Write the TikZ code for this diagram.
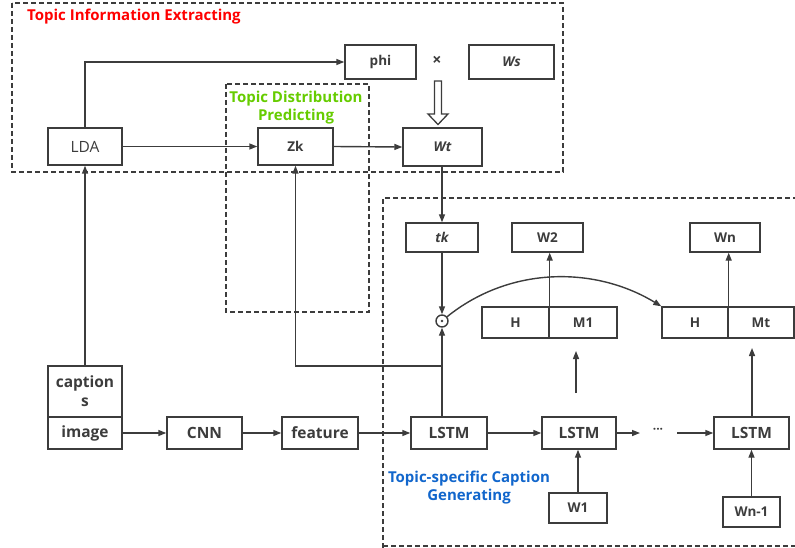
\documentclass[tikz,border=0pt]{standalone}
\usepackage{fontspec}
\setmainfont{Open Sans}
\usetikzlibrary{arrows.meta,calc}
\definecolor{ln}{HTML}{3C3C3C}
\definecolor{tred}{HTML}{FF0000}
\definecolor{tgreen}{HTML}{66CC00}
\definecolor{tblue}{HTML}{1166CC}
\begin{document}
\begin{tikzpicture}[x=1pt,y=-1pt,
  box/.style={draw=ln, line width=1.4pt, rectangle, inner sep=0pt, text=ln},
  big/.style={box, font=\fontsize{15.5}{17}\selectfont\bfseries},
  small/.style={box, font=\fontsize{13.5}{15}\selectfont\bfseries},
  smallit/.style={box, font=\fontsize{13.5}{15}\selectfont\bfseries\itshape},
  grp/.style={draw=ln, line width=1.3pt, dash pattern=on 5pt off 3pt},
  arr/.style={-{Triangle[length=8pt,width=6pt]}, draw=ln, line width=1.4pt},
  ttl/.style={font=\fontsize{15}{18}\selectfont\bfseries, align=center, inner sep=0pt}
]
\useasboundingbox (0,0) rectangle (795,548);

% group boxes
\draw[grp] (12,3) rectangle (563,172);
\draw[grp] (226,84) rectangle (369,312);
\draw[grp] (383,548) -- (383,198) -- (800,198);
\draw[grp] (383,546) -- (800,546);
\node[ttl, text=tred, anchor=west] (t1) at (27,17) {Topic Information Extracting};
\node[ttl, text=tgreen] (t2) at (296,107.5) {Topic Distribution\\Predicting};
\node[ttl, text=tblue] (t3) at (469,488) {Topic-specific Caption\\Generating};

% top section
\node[box, minimum width=74pt, minimum height=37pt, font=\fontsize{15.5}{17}\selectfont] (lda) at (85,146.5) {LDA};
\node[small, minimum width=71pt, minimum height=34pt] (phi) at (380.5,62) {phi};
\node[text=ln, font=\fontsize{16}{18}\selectfont\bfseries, inner sep=0pt] (times) at (437,61) {×};
\node[smallit, minimum width=85pt, minimum height=34pt] (ws) at (511.5,62) {Ws};
\node[smallit, minimum width=79pt, minimum height=38pt] (wt) at (442.5,147) {Wt};
\node[small, minimum width=75pt, minimum height=37pt] (zk) at (295.5,146.5) {Zk};

\draw[arr] (lda.north) |- (phi.west);
\draw[arr] (lda.east) -- (zk.west);
\draw[arr] (zk.east) -- (wt.west);
% hollow arrow
\draw[draw=ln, line width=1.3pt, fill=white] (434.5,81) -- (441.5,81) -- (441.5,114) -- (448,114) -- (438,124.5) -- (428,114) -- (434.5,114) -- cycle;

% caption generating section
\node[smallit, minimum width=72pt, minimum height=29pt] (tk) at (442,237.5) {tk};
\node[small, minimum width=71pt, minimum height=29pt] (w2) at (547.5,237.5) {W2};
\node[small, minimum width=70pt, minimum height=29pt] (wn) at (725,237.5) {Wn};
\node[small, minimum width=67pt, minimum height=31pt] (h1) at (515.5,322.5) {H};
\node[small, minimum width=68pt, minimum height=31pt] (m1) at (583,322.5) {M1};
\node[small, minimum width=66pt, minimum height=31pt] (h2) at (695,322.5) {H};
\node[small, minimum width=66pt, minimum height=31pt] (mt) at (761,322.5) {Mt};
\node[draw=ln, line width=1.4pt, circle, minimum size=12pt, inner sep=0pt] (od) at (442,321) {};
\fill[ln] (od.center) circle (1.3pt);

\draw[arr] (wt.south -| tk.north) -- (tk.north);
\draw[arr] (tk.south) -- (od.north);
\draw[arr] (h1.north east) -- (w2.south -| h1.north east);
\draw[arr] (h2.north east) -- (wn.south -| h2.north east);
\draw[arr] (od.40) .. controls (510,266) and (595,266) .. (h2.north west);

% bottom row
\node[big, minimum width=74pt, minimum height=51pt, align=center, font=\fontsize{15.5}{19}\selectfont\bfseries] (cap) at (85,391.5) {caption\\s};
\node[big, minimum width=74pt, minimum height=32pt] (img) at (85,433) {image};
\node[big, minimum width=75pt, minimum height=32pt] (cnn) at (204.5,433) {CNN};
\node[big, minimum width=76pt, minimum height=32pt] (feat) at (320,433) {feature};
\node[big, minimum width=76pt, minimum height=32pt] (l1) at (449,433) {LSTM};
\node[big, minimum width=74pt, minimum height=32pt] (l2) at (579,433) {LSTM};
\node[big, minimum width=75pt, minimum height=32pt] (l3) at (751.5,433) {LSTM};
\node[text=ln, font=\fontsize{12}{14}\selectfont\bfseries, inner sep=0pt] (dots) at (658,431) {···};
\node[small, minimum width=58pt, minimum height=30pt] (w1) at (578,508) {W1};
\node[small, minimum width=57pt, minimum height=30pt] (wn1) at (751.5,512) {Wn-1};

\draw[arr] (cap.north) -- (lda.south);
\draw[arr] (img.east) -- (cnn.west);
\draw[arr] (cnn.east) -- (feat.west);
\draw[arr] (feat.east) -- (l1.west);
\draw[arr] (l1.east) -- (l2.west);
\coordinate (d1) at (640,433);
\coordinate (d2) at (677,433);
\draw[arr] (l2.east) -- (d1);
\draw[arr] (d2) -- (l3.west);
\draw[arr] (w1.north) -- (w1.north |- l2.south);
\draw[arr] (wn1.north) -- (wn1.north |- l3.south);

% LSTM1 -> odot and branch to Zk
\coordinate (br) at (442,366);
\draw[arr] (od.south |- l1.north) -- (od.south);
\draw[arr] (br) -| (zk.south);

% free upward arrows
\coordinate (fa1) at (576,393);
\coordinate (fa2) at (576,351);
\draw[arr] (fa1) -- (fa2);
\coordinate (fa3) at (752,348);
\draw[arr] (l3.north -| fa3) -- (fa3);
\end{tikzpicture}
\end{document}
